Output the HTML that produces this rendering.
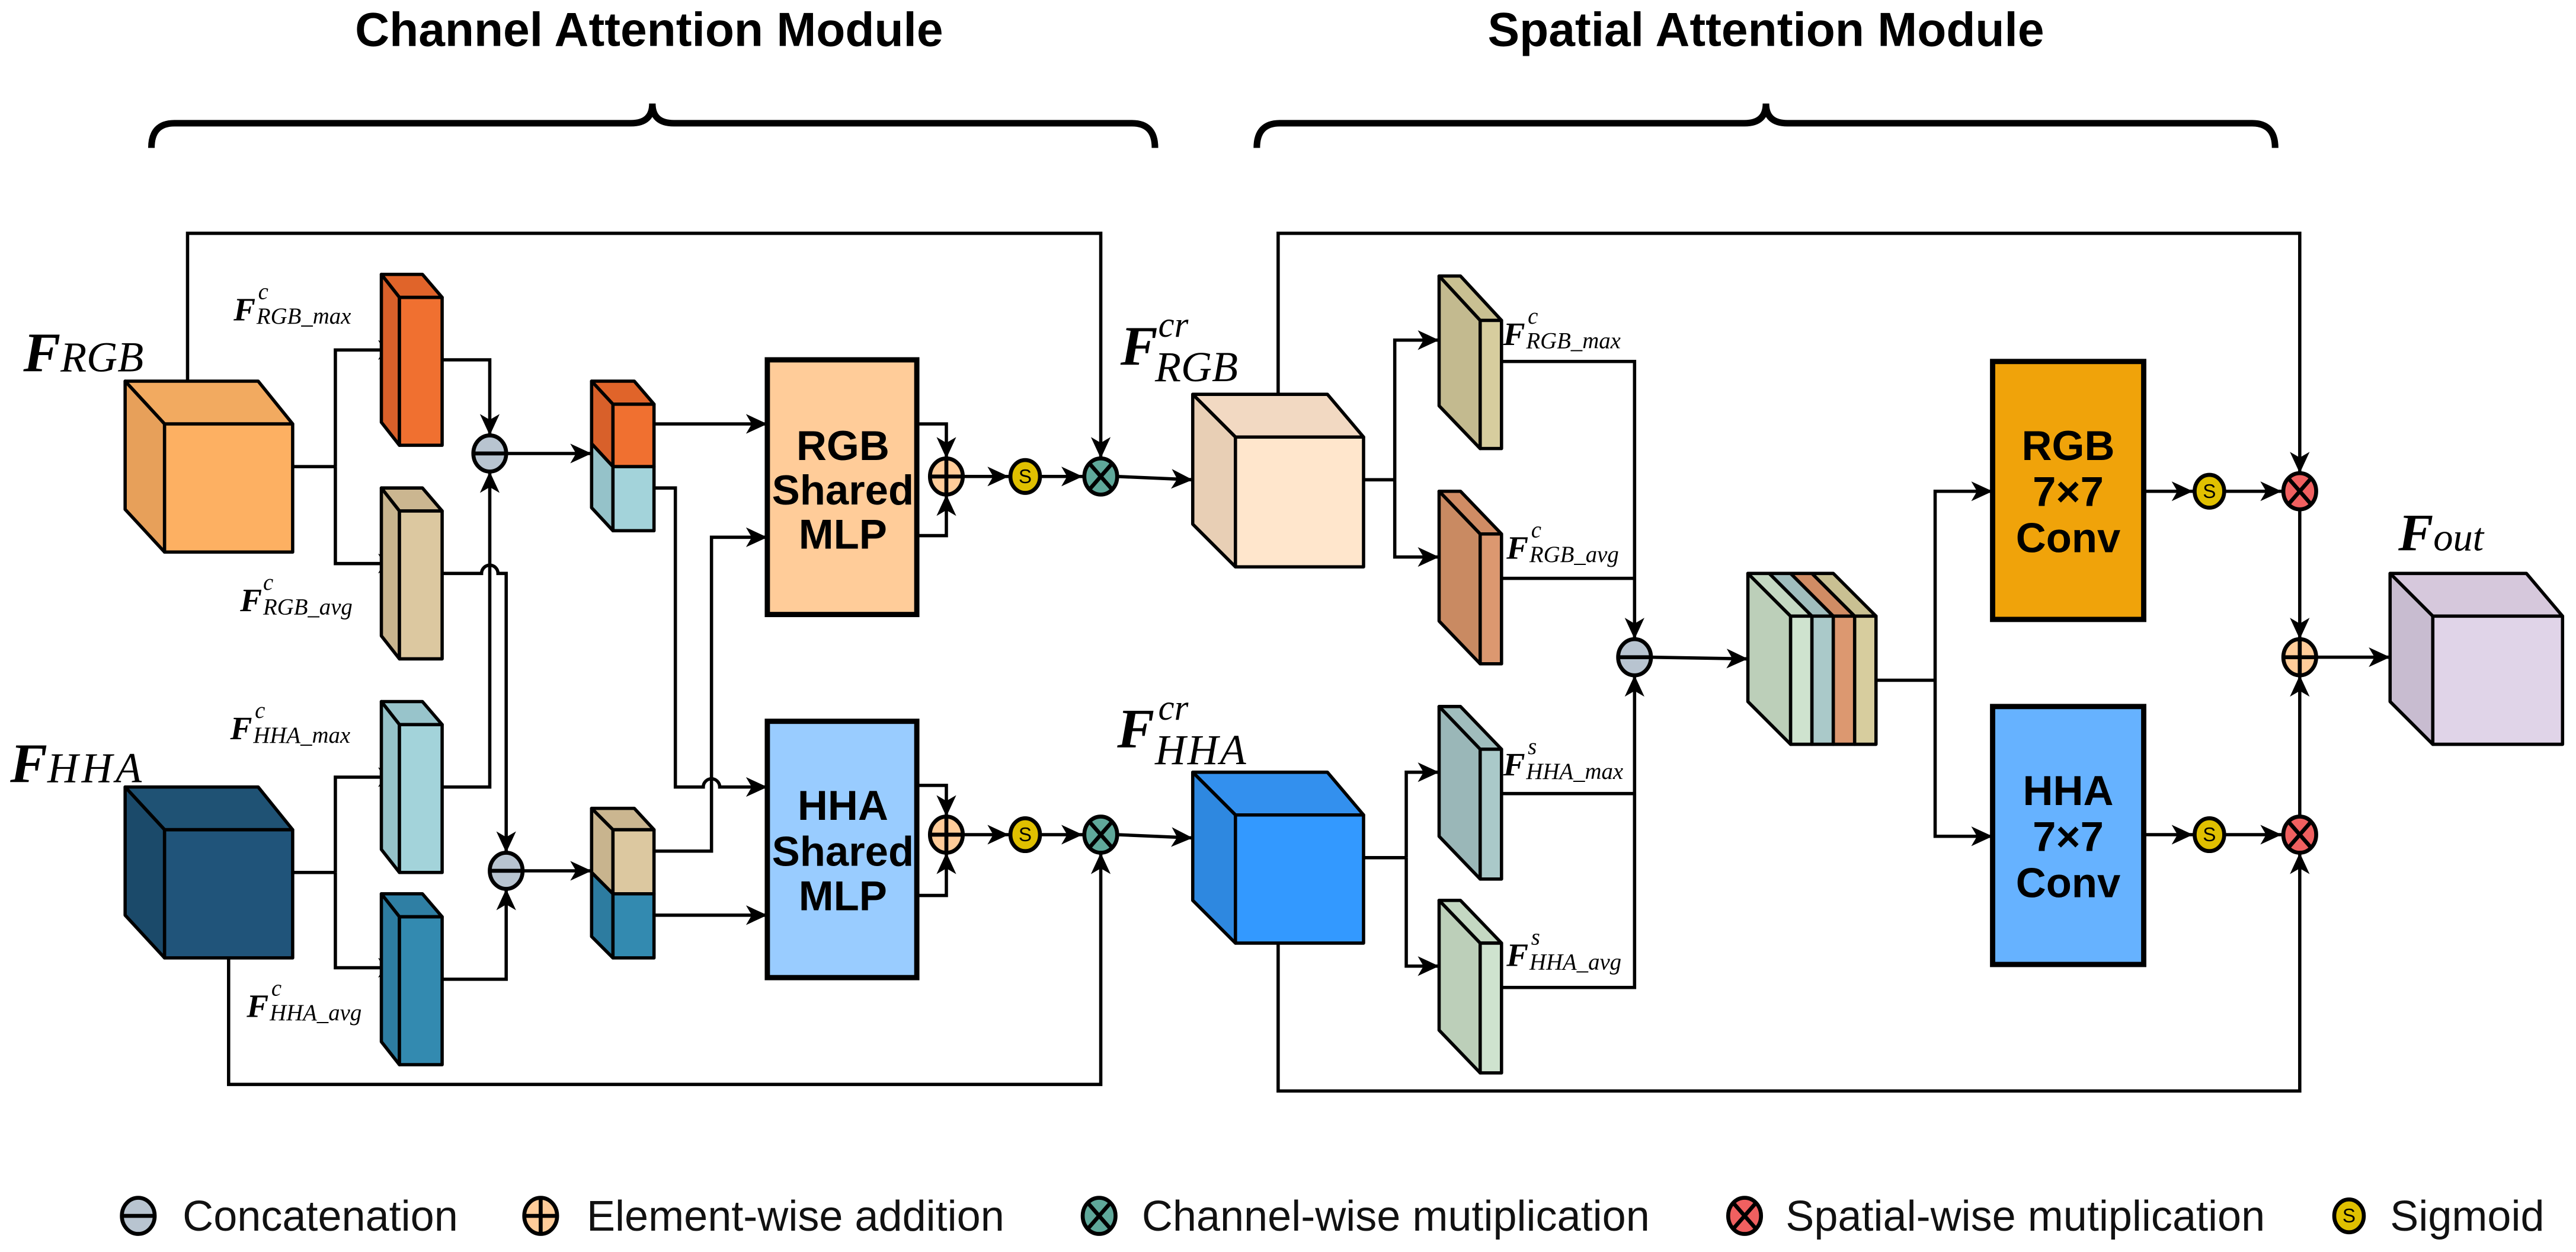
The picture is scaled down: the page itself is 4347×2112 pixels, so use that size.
<!DOCTYPE html>
<html><head><meta charset="utf-8"><style>html,body{margin:0;padding:0;background:#fff}svg{display:block}</style></head>
<body>
<svg xmlns="http://www.w3.org/2000/svg" width="4347" height="2112" viewBox="0 0 1568 762">
<defs>
<marker id="a" markerUnits="userSpaceOnUse" markerWidth="14" markerHeight="12" refX="13" refY="6" orient="auto">
<path d="M0,0 L13,6 L0,12 L3.5,6 Z" fill="#000"/></marker>
</defs>
<rect width="1568" height="762" fill="#fff"/>
<g font-family="Liberation Sans, sans-serif" font-weight="bold" font-size="29" text-anchor="middle">
<text x="395" y="28">Channel Attention Module</text>
<text x="1075" y="28">Spatial Attention Module</text>
</g>
<g fill="none" stroke="#000" stroke-width="4">
<path d="M92,90 Q92,75 106,75 L384,75 Q397,75 397,63 Q397,75 410,75 L689,75 Q703,75 703,90"/>
<path d="M765,90 Q765,75 779,75 L1062,75 Q1075,75 1075,63 Q1075,75 1088,75 L1371,75 Q1385,75 1385,90"/>
</g>
<g fill="none" stroke="#000" stroke-width="2">
<path d="M114,233 L114,142 L670,142 L670,279" marker-end="url(#a)"/>
<path d="M139,583 L139,660 L670,660 L670,519" marker-end="url(#a)"/>
<path d="M178,284 L204,284"/><path d="M204,284 L204,213 L243,213" marker-end="url(#a)"/><path d="M204,284 L204,343 L243,343" marker-end="url(#a)"/>
<path d="M178,531 L204,531"/><path d="M204,531 L204,473 L243,473" marker-end="url(#a)"/><path d="M204,531 L204,589 L243,589" marker-end="url(#a)"/>
<path d="M269,219 L298,219 L298,265" marker-end="url(#a)"/>
<path d="M269,479 L298,479 L298,287" marker-end="url(#a)"/>
<path d="M269,349 L293,349 A5,5 0 0 1 303,349 L308,349 L308,519" marker-end="url(#a)"/>
<path d="M269,596 L308,596 L308,541" marker-end="url(#a)"/>
<path d="M308,276 L360,276" marker-end="url(#a)"/>
<path d="M318,530 L360,530" marker-end="url(#a)"/>
<path d="M398,258 L467,258" marker-end="url(#a)"/>
<path d="M398,297 L411,297 L411,479 L428,479 A5,5 0 0 1 438,479 L467,479" marker-end="url(#a)"/>
<path d="M398,518 L433,518 L433,327 L467,327" marker-end="url(#a)"/>
<path d="M398,557 L467,557" marker-end="url(#a)"/>
<path d="M558,258 L576,258 L576,279" marker-end="url(#a)"/>
<path d="M558,326 L576,326 L576,301" marker-end="url(#a)"/>
<path d="M558,478 L576,478 L576,497" marker-end="url(#a)"/>
<path d="M558,545 L576,545 L576,519" marker-end="url(#a)"/>
<path d="M586,290 L614,290" marker-end="url(#a)"/><path d="M634,290 L659,290" marker-end="url(#a)"/><path d="M680,290 L726,292" marker-end="url(#a)"/>
<path d="M586,508 L614,508" marker-end="url(#a)"/><path d="M634,508 L659,508" marker-end="url(#a)"/><path d="M680,508 L726,510" marker-end="url(#a)"/>
<path d="M778,240 L778,142 L1400,142 L1400,288" marker-end="url(#a)"/>
<path d="M778,574 L778,664 L1400,664 L1400,519" marker-end="url(#a)"/>
<path d="M830,292 L849,292"/><path d="M849,292 L849,207 L876,207" marker-end="url(#a)"/><path d="M849,292 L849,339 L876,339" marker-end="url(#a)"/>
<path d="M830,522 L856,522"/><path d="M856,522 L856,470 L876,470" marker-end="url(#a)"/><path d="M856,522 L856,588 L876,588" marker-end="url(#a)"/>
<path d="M914,220 L995,220 L995,389" marker-end="url(#a)"/>
<path d="M914,352 L995,352"/><path d="M914,483 L995,483"/>
<path d="M914,601 L995,601 L995,411" marker-end="url(#a)"/>
<path d="M1005,400 L1064,401" marker-end="url(#a)"/>
<path d="M1142,414 L1178,414"/><path d="M1178,414 L1178,299 L1213,299" marker-end="url(#a)"/><path d="M1178,414 L1178,509 L1213,509" marker-end="url(#a)"/>
<path d="M1305,299 L1335,299" marker-end="url(#a)"/><path d="M1355,299 L1389,299" marker-end="url(#a)"/>
<path d="M1305,508 L1335,508" marker-end="url(#a)"/><path d="M1355,508 L1389,508" marker-end="url(#a)"/>
<path d="M1400,310 L1400,389" marker-end="url(#a)"/><path d="M1400,497 L1400,411" marker-end="url(#a)"/>
<path d="M1410,400 L1455,400" marker-end="url(#a)"/>
</g>
<g stroke="#000" stroke-width="2" stroke-linejoin="round">
<polygon points="76,232 157,232 178,258 100,258" fill="#F2AA60"/><polygon points="76,232 100,258 100,336 76,310" fill="#E7A05A"/><rect x="100" y="258" width="78" height="78" fill="#FDB062"/>
<polygon points="76,479 157,479 178,505 100,505" fill="#1F5274"/><polygon points="76,479 100,505 100,583 76,557" fill="#1B4A6A"/><rect x="100" y="505" width="78" height="78" fill="#20547A"/>
<polygon points="232,167 257,167 269,181 243,181" fill="#E0642A"/><polygon points="232,167 243,181 243,271 232,257" fill="#D8602A"/><rect x="243" y="181" width="26" height="90" fill="#F07030"/>
<polygon points="232,297 257,297 269,311 243,311" fill="#CBB690"/><polygon points="232,297 243,311 243,401 232,387" fill="#C8B48E"/><rect x="243" y="311" width="26" height="90" fill="#DCC8A0"/>
<polygon points="232,427 257,427 269,441 243,441" fill="#98C4CB"/><polygon points="232,427 243,441 243,531 232,517" fill="#95C2C9"/><rect x="243" y="441" width="26" height="90" fill="#A3D3DA"/>
<polygon points="232,544 257,544 269,558 243,558" fill="#2F7FA4"/><polygon points="232,544 243,558 243,648 232,634" fill="#2D7CA0"/><rect x="243" y="558" width="26" height="90" fill="#338AB0"/>
<polygon points="360,232 386,232 398,246 373,246" fill="#E0642A"/><polygon points="360,232 373,246 373,284 360,270" fill="#D8602A"/><polygon points="360,270 373,284 373,323 360,309" fill="#95C2C9"/>
<rect x="373" y="246" width="25" height="38" fill="#F07030"/><rect x="373" y="284" width="25" height="39" fill="#A3D3DA"/>
<polygon points="360,492 386,492 398,505 373,505" fill="#CBB690"/><polygon points="360,492 373,505 373,544 360,531" fill="#C8B48E"/><polygon points="360,531 373,544 373,583 360,570" fill="#2D7CA0"/>
<rect x="373" y="505" width="25" height="39" fill="#DCC8A0"/><rect x="373" y="544" width="25" height="39" fill="#338AB0"/>
<polygon points="726,240 808,240 830,266 752,266" fill="#F2D9C2"/><polygon points="726,240 752,266 752,345 726,319" fill="#E8CFB5"/><rect x="752" y="266" width="78" height="79" fill="#FFE6CC"/>
<polygon points="726,470 808,470 830,496 752,496" fill="#3390EE"/><polygon points="726,470 752,496 752,574 726,548" fill="#2E88E0"/><rect x="752" y="496" width="78" height="78" fill="#3399FF"/>
<polygon points="876,168 889,168 914,195 901,195" fill="#C9C092"/><polygon points="876,168 901,195 901,273 876,247" fill="#C3BA8F"/><rect x="901" y="195" width="13" height="78" fill="#D7CD9E"/>
<polygon points="876,299 889,299 914,325 901,325" fill="#D08C64"/><polygon points="876,299 901,325 901,404 876,378" fill="#C98A62"/><rect x="901" y="325" width="13" height="79" fill="#DC9870"/>
<polygon points="876,430 889,430 914,456 901,456" fill="#A0BDBD"/><polygon points="876,430 901,456 901,535 876,509" fill="#9AB7B8"/><rect x="901" y="456" width="13" height="79" fill="#AAC9C9"/>
<polygon points="876,548 889,548 914,574 901,574" fill="#C4D8C2"/><polygon points="876,548 901,574 901,653 876,627" fill="#BCCFB9"/><rect x="901" y="574" width="13" height="79" fill="#CFE3CF"/>
<polygon points="1064,349 1090,375 1090,453 1064,427" fill="#BCCFB9"/>
<polygon points="1064,349 1077,349 1103,375 1090,375" fill="#C4D8C2"/><rect x="1090" y="375" width="13" height="78" fill="#CFE3CF"/>
<polygon points="1077,349 1090,349 1116,375 1103,375" fill="#A0BDBD"/><rect x="1103" y="375" width="13" height="78" fill="#AAC9C9"/>
<polygon points="1090,349 1103,349 1129,375 1116,375" fill="#D08C64"/><rect x="1116" y="375" width="13" height="78" fill="#DC9870"/>
<polygon points="1103,349 1116,349 1142,375 1129,375" fill="#C9C092"/><rect x="1129" y="375" width="13" height="78" fill="#D7CD9E"/>
<polygon points="1455,349 1538,349 1560,375 1481,375" fill="#D6C8DC"/><polygon points="1455,349 1481,375 1481,453 1455,427" fill="#C8BCD0"/><rect x="1481" y="375" width="79" height="78" fill="#E0D4E8"/>
</g>
<g stroke="#000" stroke-width="3.2">
<rect x="467" y="219" width="91" height="155" fill="#FFCC99"/>
<rect x="467" y="439" width="91" height="156" fill="#99CCFF"/>
<rect x="1213" y="220" width="92" height="157" fill="#F0A30A"/>
<rect x="1213" y="430" width="92" height="157" fill="#66B2FF"/>
</g>
<g font-family="Liberation Sans, sans-serif" font-weight="bold" font-size="25.5" text-anchor="middle">
<text x="513" y="280">RGB</text><text x="513" y="307">Shared</text><text x="513" y="334">MLP</text>
<text x="513" y="499">HHA</text><text x="513" y="527">Shared</text><text x="513" y="554">MLP</text>
<text x="1259" y="280">RGB</text><text x="1259" y="308">7×7</text><text x="1259" y="336">Conv</text>
<text x="1259" y="490">HHA</text><text x="1259" y="518">7×7</text><text x="1259" y="546">Conv</text>
</g>
<g stroke="#000" stroke-width="2.4">
<g fill="#B8C4D0"><ellipse cx="298" cy="276" rx="10" ry="11"/><ellipse cx="308" cy="530" rx="10" ry="11"/><ellipse cx="995" cy="400" rx="10" ry="11"/><ellipse cx="84" cy="740" rx="10" ry="11"/></g>
<path d="M288,276 H308 M298,530 H318 M985,400 H1005 M74,740 H94"/>
<g fill="#FFCC99"><ellipse cx="576" cy="290" rx="10" ry="11"/><ellipse cx="576" cy="508" rx="10" ry="11"/><ellipse cx="1400" cy="400" rx="10" ry="11"/><ellipse cx="329" cy="740" rx="10" ry="11"/></g>
<path d="M566,290 H586 M576,279 V301 M566,508 H586 M576,497 V519 M1390,400 H1410 M1400,389 V411 M319,740 H339 M329,729 V751"/>
<g fill="#5FA89A"><ellipse cx="670" cy="290" rx="10" ry="11"/><ellipse cx="670" cy="508" rx="10" ry="11"/><ellipse cx="669" cy="740" rx="10" ry="11"/></g>
<path d="M663,282 L677,298 M677,282 L663,298 M663,500 L677,516 M677,500 L663,516 M662,732 L676,748 M676,732 L662,748"/>
<g fill="#F06060"><ellipse cx="1400" cy="299" rx="10" ry="11"/><ellipse cx="1400" cy="508" rx="10" ry="11"/><ellipse cx="1062" cy="740" rx="10" ry="11"/></g>
<path d="M1393,291 L1407,307 M1407,291 L1393,307 M1393,500 L1407,516 M1407,500 L1393,516 M1055,732 L1069,748 M1069,732 L1055,748"/>
<g fill="#E0C000"><ellipse cx="624" cy="290" rx="9" ry="10"/><ellipse cx="624" cy="508" rx="9" ry="10"/><ellipse cx="1345" cy="299" rx="9" ry="10"/><ellipse cx="1345" cy="508" rx="9" ry="10"/><ellipse cx="1430" cy="740" rx="9" ry="10"/></g>
</g>
<g font-family="Liberation Sans, sans-serif" font-size="12" text-anchor="middle" fill="#000">
<text x="624" y="294">S</text><text x="624" y="512">S</text><text x="1345" y="303">S</text><text x="1345" y="512">S</text><text x="1430" y="744">S</text>
</g>
<g font-family="Liberation Serif, serif" font-style="italic" fill="#000">
<text x="14" y="226"><tspan font-weight="bold" font-size="34">F</tspan><tspan font-size="26">RGB</tspan></text>
<text x="6" y="476"><tspan font-weight="bold" font-size="34">F</tspan><tspan font-size="26" letter-spacing="2">HHA</tspan></text>
<text x="682" y="222" font-weight="bold" font-size="34">F</text><text x="705" y="205" font-size="22">cr</text><text x="703" y="232" font-size="26">RGB</text>
<text x="680" y="455" font-weight="bold" font-size="34">F</text><text x="705" y="438" font-size="22">cr</text><text x="703" y="465" font-size="26" letter-spacing="1">HHA</text>
<text x="1460" y="335"><tspan font-weight="bold" font-size="32">F</tspan><tspan font-size="24">out</tspan></text>
<g font-size="14">
<text x="142" y="195" font-weight="bold" font-size="20">F</text><text x="157" y="182">c</text><text x="156" y="197">RGB_max</text>
<text x="146" y="372" font-weight="bold" font-size="20">F</text><text x="160" y="359">c</text><text x="160" y="374">RGB_avg</text>
<text x="140" y="450" font-weight="bold" font-size="20">F</text><text x="155" y="437">c</text><text x="154" y="452">HHA_max</text>
<text x="150" y="619" font-weight="bold" font-size="20">F</text><text x="165" y="606">c</text><text x="164" y="621">HHA_avg</text>
<text x="915" y="210" font-weight="bold" font-size="20">F</text><text x="930" y="197">c</text><text x="929" y="212">RGB_max</text>
<text x="917" y="340" font-weight="bold" font-size="20">F</text><text x="932" y="327">c</text><text x="931" y="342">RGB_avg</text>
<text x="915" y="472" font-weight="bold" font-size="20">F</text><text x="930" y="459">s</text><text x="929" y="474">HHA_max</text>
<text x="917" y="588" font-weight="bold" font-size="20">F</text><text x="932" y="575">s</text><text x="931" y="590">HHA_avg</text>
</g>
</g>
<g font-family="Liberation Sans, sans-serif" font-size="26" fill="#111">
<text x="111" y="749">Concatenation</text>
<text x="357" y="749">Element-wise addition</text>
<text x="695" y="749">Channel-wise mutiplication</text>
<text x="1087" y="749">Spatial-wise mutiplication</text>
<text x="1455" y="749">Sigmoid</text>
</g>
</svg>
</body></html>
